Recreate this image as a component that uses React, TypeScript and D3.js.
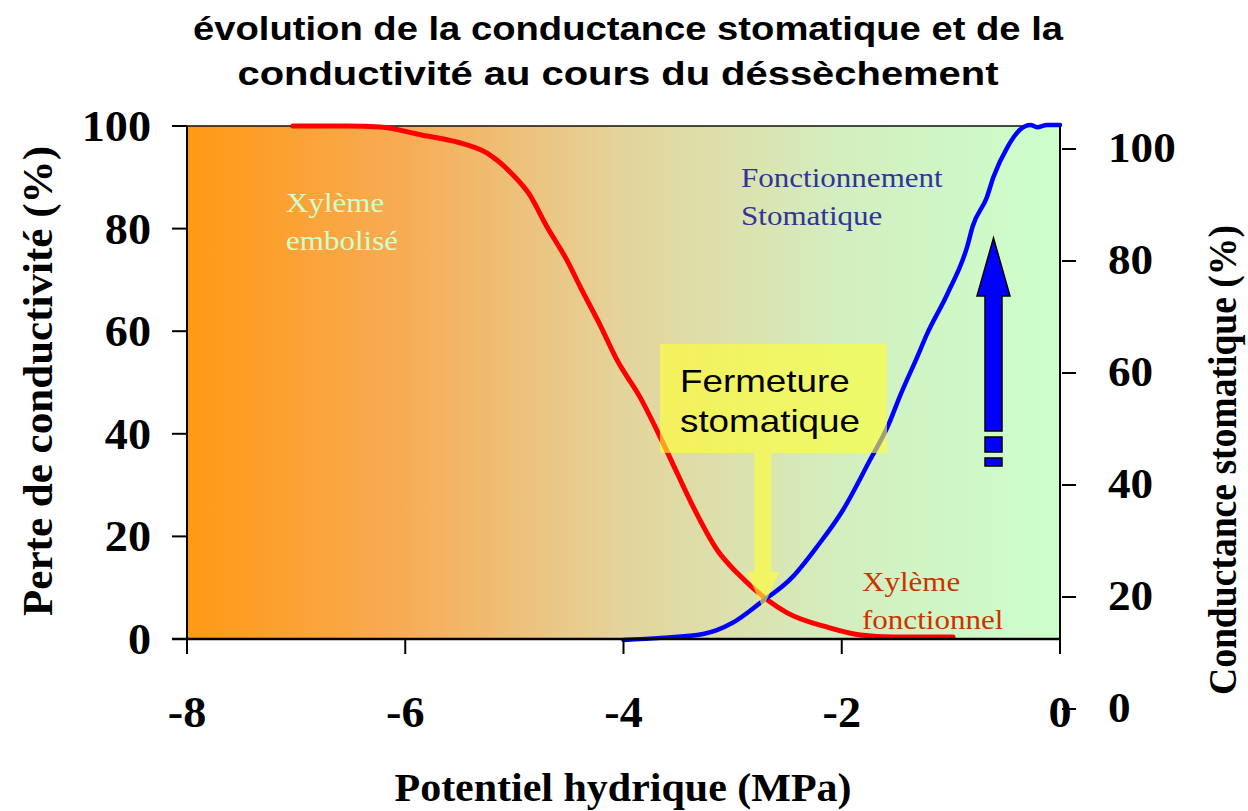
import React from 'react';
import * as d3 from 'd3';

const WIDTH = 1248;
const HEIGHT = 811;
const PLOT = { left: 187, right: 1060, top: 126, bottom: 639 };
const RIGHT_AXIS = { zero: 709, hundred: 149 };

// potentiel hydrique (MPa)
const xTicks = [-8, -6, -4, -2, 0];
const leftTicks = [0, 20, 40, 60, 80, 100];
const rightTicks = [0, 20, 40, 60, 80, 100];

// perte de conductivité (%), axe gauche
const conductiviteX = [-7.03, -6.53, -6.23, -5.84, -5.53, -5.25, -5.01, -4.87, -4.7, -4.52, -4.4, -4.21, -4.06, -3.85, -3.66, -3.51, -3.36, -3.14, -2.96, -2.68, -2.5, -2.13, -1.83, -1.53, -0.98];
const conductiviteY = [100, 100, 99.8, 98.2, 96.9, 94.7, 90.4, 86.9, 80.3, 73.9, 68.8, 61.0, 54.4, 47.2, 39.2, 32.4, 25.7, 17.3, 12.9, 7.6, 5.1, 2.3, 0.8, 0.4, 0.4];

// conductance stomatique (%), axe droit
const conductanceX = [-4.0, -3.66, -3.27, -3.0, -2.75, -2.45, -2.23, -1.99, -1.74, -1.58, -1.46, -1.31, -1.22, -1.03, -0.85, -0.8, -0.67, -0.61, -0.48, -0.37, -0.27, -0.21, -0.12, 0];
const conductanceY = [12.3, 12.7, 13.4, 15.4, 18.9, 23.6, 28.9, 35.5, 44.5, 50.4, 56.2, 62.8, 66.9, 74.2, 82.6, 86.2, 91.4, 95.0, 100.4, 103.4, 104.3, 103.9, 104.3, 104.3];

const SERIF = '"Liberation Serif", "Times New Roman", serif';
const SANS = '"Liberation Sans", Arial, sans-serif';

type STProps = {
  x: number;
  y: number;
  size: number;
  stretch?: number;
  anchor?: 'start' | 'middle' | 'end';
  weight?: string;
  family?: string;
  fill?: string;
  children: React.ReactNode;
};

// text stretched horizontally like the original picture
const StretchText = ({ x, y, size, stretch = 1.15, anchor = 'start', weight = 'normal', family = SERIF, fill = '#000', children }: STProps) => (
  <g transform={`translate(${x},${y}) scale(${stretch},1)`}>
    <text textAnchor={anchor} fontSize={size} fontWeight={weight} fontFamily={family} fill={fill}>
      {children}
    </text>
  </g>
);

export default function App() {
  const xScale = d3.scaleLinear().domain([-8, 0]).range([PLOT.left, PLOT.right]);
  const yLeft = d3.scaleLinear().domain([0, 100]).range([PLOT.bottom, PLOT.top]);
  const yRight = d3.scaleLinear().domain([0, 100]).range([RIGHT_AXIS.zero, RIGHT_AXIS.hundred]);

  const redPts = conductiviteX.map((x, i) => [x, conductiviteY[i]] as [number, number]);
  const bluePts = conductanceX.map((x, i) => [x, conductanceY[i]] as [number, number]);

  const redLine = d3
    .line<[number, number]>()
    .x((d) => xScale(d[0]))
    .y((d) => yLeft(d[1]))
    .curve(d3.curveMonotoneX)(redPts);
  const blueLine = d3
    .line<[number, number]>()
    .x((d) => xScale(d[0]))
    .y((d) => yRight(d[1]))
    .curve(d3.curveMonotoneX)(bluePts);

  const plotW = PLOT.right - PLOT.left;
  const plotH = PLOT.bottom - PLOT.top;

  // yellow arrow (Fermeture stomatique)
  const ya = { cx: 763, top: 453, headY: 572, tip: 608, shaft: 8.5, head: 16.5 };
  const yellowArrow = `M${ya.cx - ya.shaft},${ya.top} L${ya.cx + ya.shaft},${ya.top} L${ya.cx + ya.shaft},${ya.headY} L${ya.cx + ya.head},${ya.headY} L${ya.cx},${ya.tip} L${ya.cx - ya.head},${ya.headY} L${ya.cx - ya.shaft},${ya.headY} Z`;

  // blue arrow
  const ba = { cx: 993.5, tip: 238, headY: 296, bottom: 431, shaft: 8.5, head: 16.5 };
  const blueArrow = `M${ba.cx},${ba.tip} L${ba.cx + ba.head},${ba.headY} L${ba.cx + ba.shaft},${ba.headY} L${ba.cx + ba.shaft},${ba.bottom} L${ba.cx - ba.shaft},${ba.bottom} L${ba.cx - ba.shaft},${ba.headY} L${ba.cx - ba.head},${ba.headY} Z`;

  return (
    <svg width={WIDTH} height={HEIGHT} style={{ position: 'absolute', left: 0, top: 0, background: '#fff' }}>
      <defs>
        <linearGradient id="bg" x1="0" x2="1" y1="0" y2="0">
          <stop offset="0" stopColor="#FF9914" />
          <stop offset="0.25" stopColor="#F7AC55" />
          <stop offset="0.5" stopColor="#E4D49C" />
          <stop offset="0.75" stopColor="#D3EEBF" />
          <stop offset="1" stopColor="#CCFFCC" />
        </linearGradient>
      </defs>

      {/* title */}
      <text x={628} y={40} textAnchor="middle" fontFamily={SANS} fontWeight="bold" fontSize={33} textLength={870} lengthAdjust="spacingAndGlyphs">
        évolution de la conductance stomatique et de la
      </text>
      <text x={618} y={85} textAnchor="middle" fontFamily={SANS} fontWeight="bold" fontSize={33} textLength={761} lengthAdjust="spacingAndGlyphs">
        conductivité au cours du déssèchement
      </text>

      {/* plot background */}
      <rect x={PLOT.left} y={PLOT.top} width={plotW} height={plotH} fill="url(#bg)" stroke="#111" strokeWidth={1.5} />

      {/* annotations */}
      <StretchText x={286} y={212} size={27} fill="#CCFFCC">Xylème</StretchText>
      <StretchText x={286} y={250} size={27} fill="#CCFFCC">embolisé</StretchText>
      <StretchText x={741} y={187} size={27} fill="#333399">Fonctionnement</StretchText>
      <StretchText x={741} y={225} size={27} fill="#333399">Stomatique</StretchText>
      <StretchText x={862} y={591} size={27} fill="#CC3300">Xylème</StretchText>
      <StretchText x={862} y={629} size={27} fill="#CC3300">fonctionnel</StretchText>

      {/* curves */}
      <path d={redLine ?? ''} fill="none" stroke="#FF0000" strokeWidth={5} strokeLinejoin="round" strokeLinecap="round" />
      <path d={blueLine ?? ''} fill="none" stroke="#0000FF" strokeWidth={4.5} strokeLinejoin="round" strokeLinecap="round" />

      {/* Fermeture stomatique */}
      <rect x={660} y={344} width={227} height={109} fill="#FFFF33" opacity={0.62} />
      <path d={yellowArrow} fill="#FFFF33" opacity={0.62} />
      <StretchText x={680} y={392} size={32} family={SANS}>Fermeture</StretchText>
      <StretchText x={680} y={432} size={32} family={SANS}>stomatique</StretchText>

      {/* blue arrow */}
      <path d={blueArrow} fill="#0000FF" stroke="#000" strokeWidth={1.5} />
      <rect x={ba.cx - ba.shaft} y={437} width={ba.shaft * 2} height={15} fill="#0000FF" stroke="#000" strokeWidth={1.5} />
      <rect x={ba.cx - ba.shaft} y={458} width={ba.shaft * 2} height={8} fill="#0000FF" stroke="#000" strokeWidth={1.5} />

      {/* left axis */}
      <line x1={PLOT.left} x2={PLOT.left} y1={PLOT.top} y2={PLOT.bottom + 15} stroke="#000" strokeWidth={2} />
      {leftTicks.map((t) => (
        <g key={`l${t}`}>
          <line x1={PLOT.left - 15} x2={PLOT.left} y1={yLeft(t)} y2={yLeft(t)} stroke="#000" strokeWidth={2} />
          <StretchText x={151} y={yLeft(t) + 15} size={44} stretch={1.05} weight="bold" anchor="end">{t}</StretchText>
        </g>
      ))}

      {/* bottom axis */}
      <line x1={PLOT.left - 15} x2={PLOT.right} y1={PLOT.bottom} y2={PLOT.bottom} stroke="#000" strokeWidth={2.5} />
      {xTicks.map((t) => (
        <g key={`x${t}`}>
          <line x1={xScale(t)} x2={xScale(t)} y1={PLOT.bottom} y2={PLOT.bottom + 15} stroke="#000" strokeWidth={2} />
          <StretchText x={xScale(t)} y={727} size={44} stretch={1.05} weight="bold" anchor="middle">{t}</StretchText>
        </g>
      ))}

      {/* right axis */}
      <line x1={PLOT.right} x2={PLOT.right} y1={PLOT.top} y2={PLOT.bottom + 15} stroke="#000" strokeWidth={2} />
      {rightTicks.map((t) => (
        <g key={`r${t}`}>
          <line x1={PLOT.right + 2} x2={PLOT.right + 16} y1={yRight(t)} y2={yRight(t)} stroke="#000" strokeWidth={2} />
          <StretchText x={1108} y={yRight(t) + 13} size={43} stretch={1.05} weight="bold">{t}</StretchText>
        </g>
      ))}

      {/* axis titles */}
      <text
        transform="translate(52,381) rotate(-90)"
        textAnchor="middle"
        fontFamily={SERIF}
        fontWeight="bold"
        fontSize={42}
        textLength={470}
        lengthAdjust="spacingAndGlyphs"
      >
        Perte de conductivité (%)
      </text>
      <text
        transform="translate(1236,460) rotate(-90)"
        textAnchor="middle"
        fontFamily={SERIF}
        fontWeight="bold"
        fontSize={40}
        textLength={470}
        lengthAdjust="spacingAndGlyphs"
      >
        Conductance stomatique (%)
      </text>
      <text x={623} y={801} textAnchor="middle" fontFamily={SERIF} fontWeight="bold" fontSize={40} textLength={457} lengthAdjust="spacingAndGlyphs">
        Potentiel hydrique (MPa)
      </text>
    </svg>
  );
}
